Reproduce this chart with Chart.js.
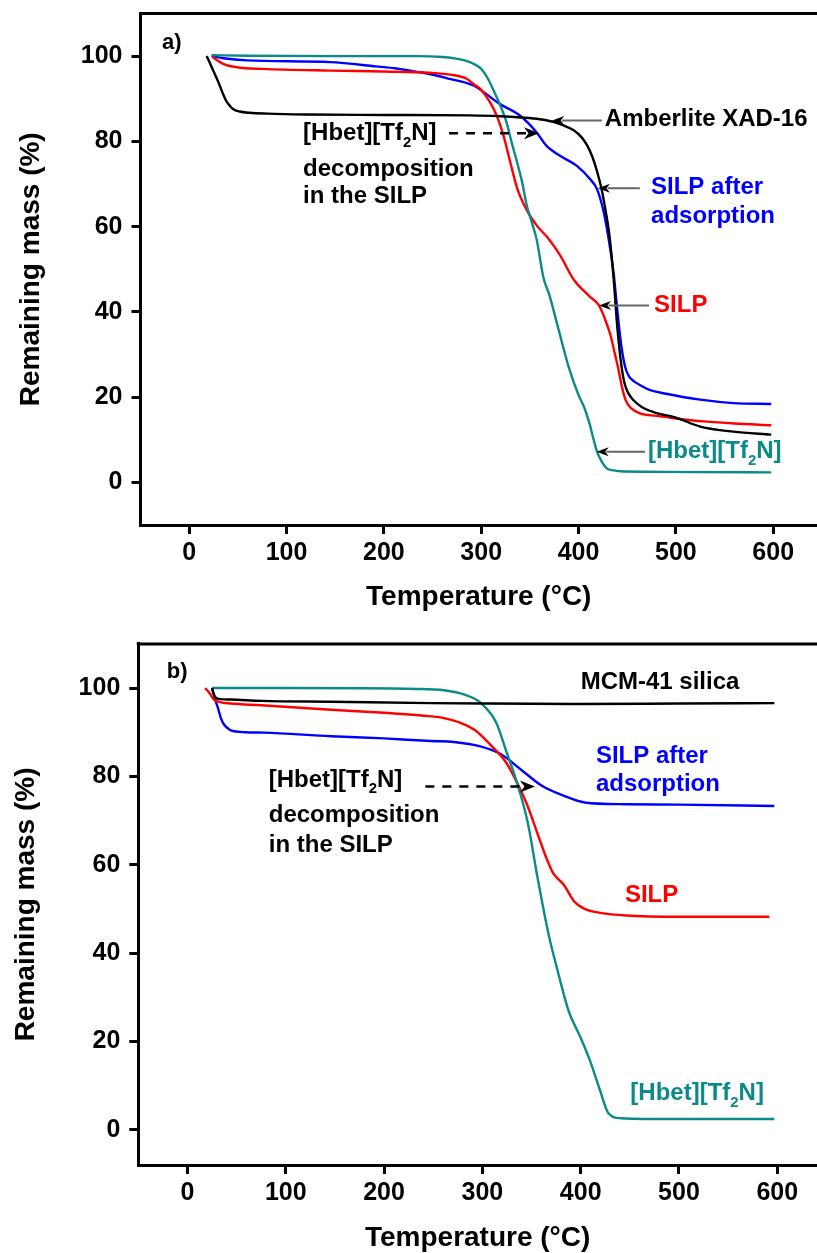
<!DOCTYPE html>
<html lang="en">
<head>
  <meta charset="UTF-8">
  <title>TGA curves</title>
  <script src="https://cdn.jsdelivr.net/npm/chart.js"></script>
  <style>
    body { margin: 0; background: #fff; }
    canvas { position: absolute; left: 0; }
    #chartA { top: 0; }
    #chartB { top: 625px; }
  </style>
</head>
<body>

<canvas id="chartA" width="817" height="625"></canvas>
<canvas id="chartB" width="817" height="628"></canvas>

<script>
  // tick labels
  const xTicks = [0, 100, 200, 300, 400, 500, 600];
  const yTicks = [0, 20, 40, 60, 80, 100];

  // panel a) - temperature (°C) and remaining mass (%)
  const amberliteT = [18, 24, 30, 35, 38.5, 42, 45, 52, 62, 80, 120, 200, 288, 320, 341, 360, 374, 385, 395, 403, 409, 414, 419, 424, 428, 432, 436, 440, 444, 447, 451, 456, 465, 477, 500, 525, 559, 598];
  const amberliteM = [100, 97, 93.9, 91, 89.3, 88.3, 87.6, 87, 86.7, 86.5, 86.3, 86.2, 86.1, 85.9, 85.6, 85.2, 84.6, 83.7, 82.6, 81, 79, 76.5, 73, 68.5, 63.5, 57.5, 48, 36, 27.5, 23.5, 21, 19.4, 17.7, 16.5, 15.2, 13.1, 11.9, 11.2];

  const silpAT = [24, 35, 49, 76, 145, 200, 247, 270, 285, 293, 299, 309, 316, 323, 330, 337, 347, 358, 368, 381, 395, 411, 421, 428, 433, 437, 441, 445, 449, 454, 463, 480, 500, 529, 560, 598];
  const silpAM = [99.8, 98.2, 97.4, 97, 96.6, 96.4, 96.1, 95.6, 94.7, 93.3, 92.3, 89.2, 86, 81.3, 75, 69, 63.8, 60, 57.5, 53.3, 47.6, 43.7, 41.5, 37.8, 34.4, 30.5, 26.5, 22, 19, 17.4, 16.2, 15.6, 15, 14.3, 13.8, 13.4];

  const afterAT = [23, 35, 59, 145, 192, 213, 234, 247, 265, 292, 319, 340, 357, 367, 381, 398, 412, 419, 426, 431, 436, 440, 444, 448, 452, 457, 465, 473, 490, 525, 559, 598];
  const afterAM = [100, 99.5, 99, 98.6, 97.6, 97.1, 96.3, 95.8, 94.8, 93.1, 88.8, 86, 82.1, 79, 76.6, 74.3, 71.1, 68.8, 63.3, 57, 49.2, 40, 32, 27, 24.8, 23.7, 22.6, 21.7, 20.8, 19.4, 18.6, 18.4];

  const ilAT = [23, 60, 150, 234, 260, 272, 283, 293, 300, 307, 313, 319, 326, 331, 337, 342, 347, 352, 357, 364, 370, 379, 390, 400, 406, 411, 415, 419, 424, 429, 436, 443, 470, 520, 598];
  const ilAM = [100.2, 100.1, 100, 100, 99.8, 99.5, 99, 98.1, 97, 94.7, 91.8, 88.8, 84.5, 80, 75, 70.5, 64.8, 61, 57, 48, 44, 36.3, 27, 20.5, 17.5, 14, 10.5, 7.2, 4.8, 3.3, 2.8, 2.6, 2.5, 2.4, 2.35];

  // panel b)
  const mcmT = [25, 27, 29, 33, 44, 75, 146, 248, 300, 393, 500, 597];
  const mcmM = [100, 98.5, 97.8, 97.5, 97.4, 97.1, 96.9, 96.6, 96.5, 96.4, 96.5, 96.6];

  const silpBT = [18, 22, 27, 33, 44, 75, 146, 200, 248, 261, 277, 293, 308, 324, 335, 346, 356, 366, 372, 383, 393, 404, 420, 446, 499, 592];
  const silpBM = [100, 99, 97.4, 96.8, 96.5, 96.1, 95.1, 94.4, 93.6, 93.2, 92.2, 90.4, 87.2, 83.2, 78.7, 73.3, 67.1, 61, 58.1, 55.4, 51.8, 50, 49.1, 48.5, 48.2, 48.2];

  const afterBT = [25, 28, 31, 34, 37, 41, 44, 59, 78, 146, 200, 248, 271, 298, 319, 340, 361, 383, 404, 446, 499, 597];
  const afterBM = [100, 97.5, 95.5, 93.2, 91.8, 90.9, 90.4, 90, 89.9, 89.1, 88.6, 88, 87.8, 86.8, 85, 81.4, 77.8, 75.6, 74.1, 73.7, 73.6, 73.3];

  const ilBT = [25, 100, 234, 261, 282, 298, 314, 324, 335, 346, 356, 367, 377, 388, 399, 409, 420, 428, 441, 499, 597];
  const ilBM = [100, 100, 99.8, 99.5, 98.5, 96.7, 92.2, 85.9, 78.7, 69.7, 57.2, 44.6, 35.6, 26.7, 21.3, 15.9, 8.7, 3.8, 2.6, 2.4, 2.4];

  const FONT = '"Liberation Sans", Arial, sans-serif';
  const BLACK = '#000000', RED = '#ff0000', BLUE = '#0000ff', TEAL = '#0b8a8a';

  // text labels and arrows, placed in data units
  const notesA = [
    { text: 'a)', x: -28, y: 103, size: 22 },
    { text: 'Amberlite XAD-16', x: 427, y: 85.1 },
    { text: 'SILP after', x: 474.5, y: 69.3, color: BLUE },
    { text: 'adsorption', x: 474.5, y: 62.5, color: BLUE },
    { text: 'SILP', x: 477.6, y: 41.5, color: RED },
    { text: '[Hbet][Tf_2N]', x: 471.4, y: 7.2, color: TEAL },
    { text: '[Hbet][Tf_2N]', x: 117, y: 81.9 },
    { text: 'decomposition', x: 117, y: 73.5 },
    { text: 'in the SILP', x: 117, y: 67 }
  ];
  const arrowsA = [
    { x1: 424, x2: 373, y: 84.9 },
    { x1: 463, x2: 420, y: 69 },
    { x1: 472.5, x2: 421, y: 41.5 },
    { x1: 468.3, x2: 418.7, y: 7.2 },
    { x1: 267, x2: 359.4, y: 81.9, dashed: true }
  ];
  const notesB = [
    { text: 'b)', x: -21, y: 103.7, size: 22 },
    { text: 'MCM-41 silica', x: 400, y: 101.2 },
    { text: 'SILP after', x: 415.5, y: 84.6, color: BLUE },
    { text: 'adsorption', x: 415.5, y: 78.2, color: BLUE },
    { text: 'SILP', x: 445, y: 53, color: RED },
    { text: '[Hbet][Tf_2N]', x: 450.5, y: 8.2, color: TEAL },
    { text: '[Hbet][Tf_2N]', x: 82.7, y: 79.2 },
    { text: 'decomposition', x: 82.7, y: 71.1 },
    { text: 'in the SILP', x: 82.7, y: 64.4 }
  ];
  const arrowsB = [
    { x1: 242, x2: 353.5, y: 77.7, dashed: true }
  ];

  function pts(t, m) {
    return t.map((v, i) => ({ x: v, y: m[i] }));
  }

  function line(data, color) {
    return {
      data: data,
      borderColor: color,
      borderWidth: 2.4,
      pointRadius: 0,
      fill: false,
      cubicInterpolationMode: 'monotone'
    };
  }

  // text with a "_2" style subscript
  function drawRich(ctx, str, x, y, size) {
    const parts = str.split(/_(\d)/);
    let cx = x;
    parts.forEach((p, i) => {
      const sub = i % 2 === 1;
      ctx.font = 'bold ' + (sub ? size * 0.62 : size) + 'px ' + FONT;
      ctx.fillText(p, cx, sub ? y + size * 0.38 : y);
      cx += ctx.measureText(p).width;
    });
  }

  function drawArrow(ctx, x1, x2, y, dashed) {
    const dir = x2 > x1 ? 1 : -1;
    const len = dashed ? 15 : 12;
    const half = dashed ? 6 : 4.5;
    ctx.save();
    ctx.beginPath();
    if (dashed) {
      ctx.setLineDash([9, 8]);
      ctx.strokeStyle = BLACK;
      ctx.lineWidth = 2.5;
    } else {
      ctx.strokeStyle = '#666';
      ctx.lineWidth = 2;
    }
    ctx.moveTo(x1, y);
    ctx.lineTo(x2 - dir * len * 0.8, y);
    ctx.stroke();
    ctx.setLineDash([]);
    ctx.fillStyle = BLACK;
    ctx.beginPath();
    ctx.moveTo(x2, y);
    ctx.lineTo(x2 - dir * len, y - half);
    ctx.lineTo(x2 - dir * len * 0.7, y);
    ctx.lineTo(x2 - dir * len, y + half);
    ctx.closePath();
    ctx.fill();
    ctx.restore();
  }

  const notesPlugin = {
    id: 'notes',
    afterDraw(chart, args, opts) {
      const ctx = chart.ctx;
      const xs = chart.scales.x, ys = chart.scales.y;
      const area = chart.chartArea;

      // top frame line
      ctx.save();
      ctx.strokeStyle = BLACK;
      ctx.lineWidth = 3;
      ctx.beginPath();
      ctx.moveTo(area.left - 1.5, area.top);
      ctx.lineTo(area.right, area.top);
      ctx.stroke();

      ctx.textBaseline = 'middle';
      ctx.textAlign = 'left';
      opts.notes.forEach(n => {
        ctx.fillStyle = n.color || BLACK;
        drawRich(ctx, n.text, xs.getPixelForValue(n.x), ys.getPixelForValue(n.y), n.size || 24);
      });
      opts.arrows.forEach(a => {
        drawArrow(ctx, xs.getPixelForValue(a.x1), xs.getPixelForValue(a.x2), ys.getPixelForValue(a.y), a.dashed);
      });
      ctx.restore();
    }
  };

  function makePanel(id, p) {
    const ctx = document.getElementById(id).getContext('2d');
    const tickFont = { family: FONT, size: 25, weight: 'bold' };
    const titleFont = { family: FONT, size: 28, weight: 'bold', lineHeight: 1 };
    return new Chart(ctx, {
      type: 'line',
      data: { datasets: p.datasets },
      options: {
        responsive: false,
        animation: false,
        events: [],
        layout: { padding: { top: p.top, left: 0, right: 0, bottom: 0 } },
        plugins: {
          legend: { display: false },
          tooltip: { enabled: false },
          notes: { notes: p.notes, arrows: p.arrows }
        },
        scales: {
          x: {
            type: 'linear',
            min: -50,
            max: p.xMax,
            afterBuildTicks: s => { s.ticks = xTicks.map(v => ({ value: v })); },
            afterFit: s => {
              s.height = p.height - p.bottom;
              s.paddingLeft = 0;
              s.paddingRight = 0;
            },
            grid: { drawOnChartArea: false, drawTicks: true, tickLength: 9, tickWidth: 3, tickColor: BLACK },
            border: { display: true, width: 3, color: BLACK },
            ticks: { color: BLACK, font: tickFont, padding: 4, maxRotation: 0 },
            title: { display: true, text: 'Temperature (°C)', color: BLACK, font: titleFont, padding: { top: 0, bottom: p.xTitlePad } }
          },
          y: {
            min: p.yMin,
            max: 110,
            afterBuildTicks: s => { s.ticks = yTicks.map(v => ({ value: v })); },
            afterFit: s => {
              s.width = p.left;
              s.paddingTop = 0;
              s.paddingBottom = 0;
            },
            grid: { drawOnChartArea: false, drawTicks: true, tickLength: 9, tickWidth: 3, tickColor: BLACK },
            border: { display: true, width: 3, color: BLACK },
            ticks: { color: BLACK, font: tickFont, padding: 9 },
            title: { display: true, text: 'Remaining mass (%)', color: BLACK, font: titleFont, padding: { top: p.yTitlePad, bottom: 0 } }
          }
        }
      },
      plugins: [notesPlugin]
    });
  }

  makePanel('chartA', {
    height: 625, top: 13.5, bottom: 525, left: 140.5,
    xMax: 645, yMin: -10, xTitlePad: 14, yTitlePad: 17,
    notes: notesA, arrows: arrowsA,
    datasets: [
      line(pts(amberliteT, amberliteM), BLACK),
      line(pts(ilAT, ilAM), TEAL),
      line(pts(silpAT, silpAM), RED),
      line(pts(afterAT, afterAM), BLUE)
    ]
  });

  makePanel('chartB', {
    height: 628, top: 18.9, bottom: 540, left: 138.3,
    xMax: 640.4, yMin: -8, xTitlePad: 1, yTitlePad: 12,
    notes: notesB, arrows: arrowsB,
    datasets: [
      line(pts(mcmT, mcmM), BLACK),
      line(pts(ilBT, ilBM), TEAL),
      line(pts(silpBT, silpBM), RED),
      line(pts(afterBT, afterBM), BLUE)
    ]
  });
</script>

</body>
</html>
